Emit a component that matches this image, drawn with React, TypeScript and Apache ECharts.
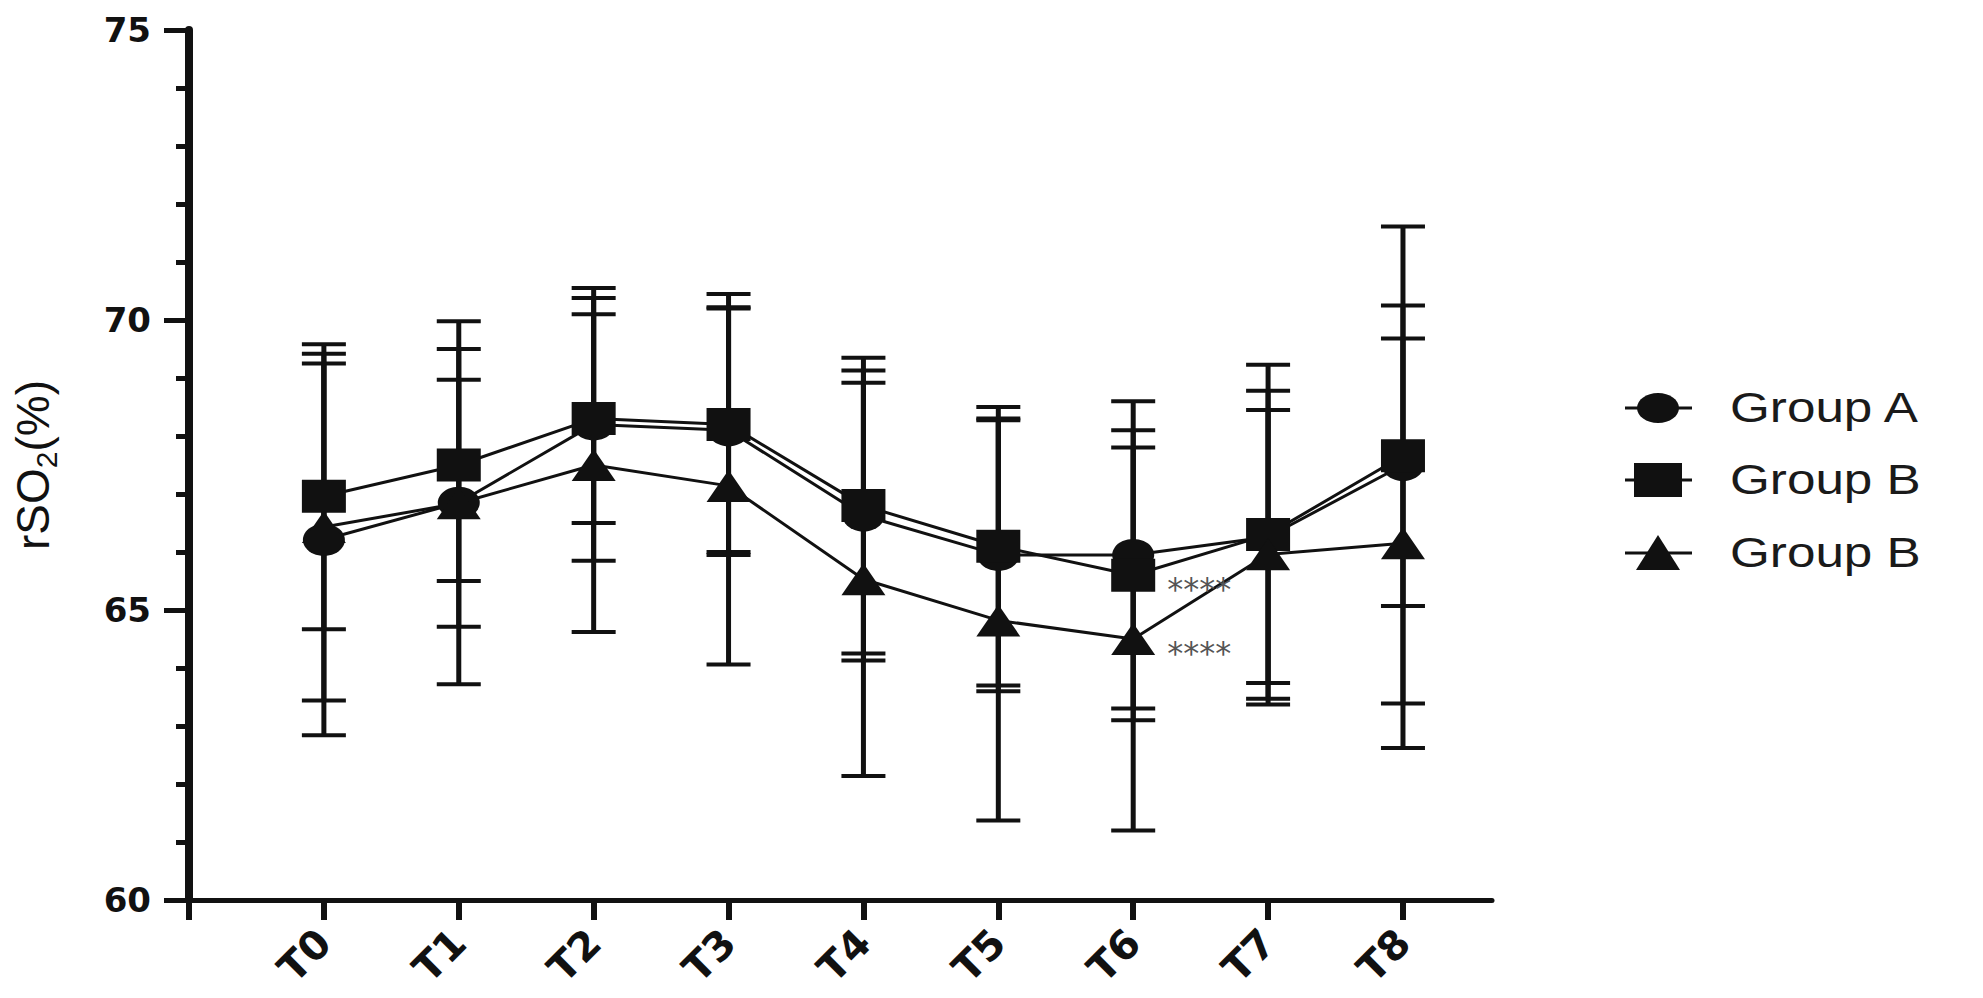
import React, { useEffect, useRef } from 'react';
import * as echarts from 'echarts';

// ---- data ----
const categories = ['T0', 'T1', 'T2', 'T3', 'T4', 'T5', 'T6', 'T7', 'T8'];
const seriesNames = ['Group A', 'Group B', 'Group B'];
const groupAMean = [66.21, 66.85, 68.2, 68.1, 66.63, 65.95, 65.95, 66.26, 67.5];
const groupASD = [3.37, 3.13, 2.35, 2.1, 2.5, 2.35, 2.65, 2.52, 4.11];
const groupBMean = [66.96, 67.5, 68.3, 68.2, 66.8, 66.1, 65.6, 66.3, 67.66];
const groupBSD = [2.29, 2.0, 1.8, 2.25, 2.55, 2.4, 2.5, 2.93, 2.59];
const groupCMean = [66.43, 66.84, 67.5, 67.14, 65.53, 64.82, 64.5, 65.96, 66.15];
const groupCSD = [2.99, 2.13, 2.88, 3.08, 3.39, 3.45, 3.3, 2.49, 3.53];
const sigA = ['', '', '', '', '', '', '', '', ''];
const sigB = ['', '', '', '', '', '', '****', '', ''];
const sigC = ['', '', '', '', '', '', '****', '', ''];
const yMin = 60;
const yMax = 75;
const yInterval = 5;

const INK = '#111';

const means = [groupAMean, groupBMean, groupCMean];
const sds = [groupASD, groupBSD, groupCSD];
const sigs = [sigA, sigB, sigC];
const symbols = ['circle', 'rect', 'triangle'];
const symbolSizes: any[] = [[42, 32], [44, 33], [44, 32]];

const lineData = (m: number[]) => m.map((v, i) => [i, v]);
const errData = (m: number[], s: number[]) => m.map((v, i) => [i, v - s[i], v + s[i]]);

const renderErr = (params: any, api: any) => {
  const x = api.value(0);
  const lo = api.coord([x, api.value(1)]);
  const hi = api.coord([x, api.value(2)]);
  const hw = 22;
  const cap = { stroke: INK, lineWidth: 4 };
  return {
    type: 'group',
    children: [
      { type: 'line', shape: { x1: lo[0], y1: lo[1], x2: hi[0], y2: hi[1] }, style: { stroke: INK, lineWidth: 5 } },
      { type: 'line', shape: { x1: lo[0] - hw, y1: lo[1], x2: lo[0] + hw, y2: lo[1] }, style: cap },
      { type: 'line', shape: { x1: hi[0] - hw, y1: hi[1], x2: hi[0] + hw, y2: hi[1] }, style: cap },
    ],
  };
};

const buildSeries = () => {
  const out: any[] = [];
  for (let k = 0; k < 3; k++) {
    out.push({
      type: 'custom',
      name: seriesNames[k] + ' SD',
      renderItem: renderErr,
      data: errData(means[k], sds[k]),
      encode: { x: 0, y: [1, 2] },
      z: 1,
      silent: true,
    });
  }
  for (let k = 0; k < 3; k++) {
    const sig = sigs[k];
    out.push({
      type: 'line',
      name: seriesNames[k],
      data: lineData(means[k]),
      symbol: symbols[k],
      symbolSize: symbolSizes[k],
      lineStyle: { color: INK, width: 3 },
      itemStyle: { color: INK },
      z: 3,
      label: {
        show: true,
        position: 'right',
        distance: 12,
        offset: [0, 14],
        formatter: (p: any) => sig[p.dataIndex] || '',
        fontFamily: 'DejaVu Sans',
        fontSize: 32,
        color: '#555',
      },
    });
  }
  return out;
};

const legendGraphics = () => {
  const rowsY = [408, 480, 553];
  return seriesNames.map((name, i) => {
    let marker: any;
    if (i === 0) marker = { type: 'ellipse', shape: { cx: 33, cy: 0, rx: 21, ry: 15 }, style: { fill: INK } };
    else if (i === 1) marker = { type: 'rect', shape: { x: 9, y: -17, width: 48, height: 34 }, style: { fill: INK } };
    else marker = { type: 'polygon', shape: { points: [[33, -18], [11, 17], [55, 17]] }, style: { fill: INK } };
    return {
      type: 'group',
      x: 1625,
      y: rowsY[i],
      children: [
        { type: 'line', shape: { x1: 0, y1: 0, x2: 67, y2: 0 }, style: { stroke: INK, lineWidth: 3 } },
        marker,
        {
          type: 'text',
          x: 105,
          y: 0,
          scaleX: 1.22,
          style: {
            text: name,
            fontFamily: 'Liberation Sans',
            fontSize: 42,
            fill: '#1a1a1a',
            align: 'left',
            verticalAlign: 'middle',
          },
        },
      ],
    };
  });
};

const option: any = {
  animation: false,
  backgroundColor: '#fff',
  grid: { left: 189, right: 491, top: 30, bottom: 98, containLabel: false, outerBoundsMode: 'none' },
  xAxis: {
    type: 'value',
    min: -1,
    max: 8.66,
    interval: 1,
    axisLine: { show: true, onZero: false, lineStyle: { color: INK, width: 5 } },
    axisTick: {
      show: true,
      length: 20,
      lineStyle: { color: INK, width: 6 },
      customValues: [-1, ...categories.map((_, i) => i)],
    },
    axisLabel: {
      customValues: categories.map((_, i) => i),
      formatter: (v: number) => categories[Math.round(v)] ?? '',
      rotate: 45,
      margin: 36,
      fontFamily: 'DejaVu Sans',
      fontWeight: 'bold',
      fontSize: 40,
      color: INK,
    },
    splitLine: { show: false },
  },
  yAxis: {
    type: 'value',
    min: yMin,
    max: yMax,
    interval: yInterval,
    axisLine: { show: true, onZero: false, lineStyle: { color: INK, width: 8 } },
    axisTick: { show: true, length: 25, lineStyle: { color: INK, width: 5 } },
    minorTick: { show: true, splitNumber: 5, length: 13, lineStyle: { color: INK, width: 5 } },
    axisLabel: {
      margin: 38,
      fontFamily: 'DejaVu Sans',
      fontWeight: 'bold',
      fontSize: 34,
      color: INK,
    },
    splitLine: { show: false },
    minorSplitLine: { show: false },
    name: '{a|rSO}{b|2}{a|(%)}',
    nameLocation: 'middle',
    nameRotate: 90,
    nameGap: 128,
    nameTextStyle: {
      rich: {
        a: { fontFamily: 'Liberation Sans', fontSize: 46, lineHeight: 46, color: INK, verticalAlign: 'middle' },
        b: { fontFamily: 'Liberation Sans', fontSize: 30, lineHeight: 56, color: INK, verticalAlign: 'bottom' },
      },
    },
  },
  series: buildSeries(),
  graphic: legendGraphics(),
};

export default function App() {
  const ref = useRef<HTMLDivElement>(null);
  useEffect(() => {
    const chart = echarts.init(ref.current!, null, { renderer: 'svg' });
    chart.setOption(option);
    return () => chart.dispose();
  }, []);
  return (
    <div
      ref={ref}
      style={{ position: 'fixed', left: 0, top: 0, width: 1983, height: 998, background: '#fff' }}
    />
  );
}
